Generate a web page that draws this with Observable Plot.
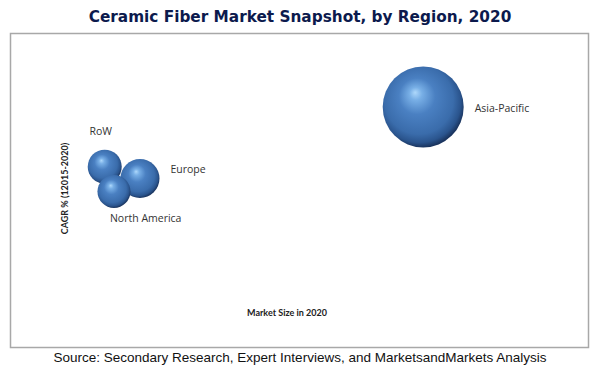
<!DOCTYPE html>
<html>
<head>
<meta charset="utf-8">
<script src="https://cdn.jsdelivr.net/npm/d3@7"></script>
<script src="https://cdn.jsdelivr.net/npm/@observablehq/plot@0.6"></script>
<style>
  html, body { margin: 0; padding: 0; background: #fff; }
  #wrap { width: 600px; height: 368px; position: relative; }
  #title { height: 32px; line-height: 32px; text-align: center; font-family: "DejaVu Sans", Verdana, sans-serif; font-weight: bold; font-size: 15.3px; color: #0c1a4d; padding-top: 1px; box-sizing: border-box; }
  #chart svg { display: block; }
  #caption { height: 20px; line-height: 19px; text-align: center; font-family: "Liberation Sans", Arial, sans-serif; font-size: 13.5px; color: #111; }
</style>
</head>
<body>
<div id="wrap">
  <div id="title">Ceramic Fiber Market Snapshot, by Region, 2020</div>
  <div id="chart"></div>
  <div id="caption">Source: Secondary Research, Expert Interviews, and MarketsandMarkets Analysis</div>
</div>
<script>
// Data (relative index values)
const regions   = ["Europe", "RoW", "North America", "Asia-Pacific"];
const marketSize = [22.4, 16.3, 17.9, 71.4];   // x: Market Size in 2020 (relative)
const cagr       = [53.8, 57.6, 49.7, 76.6];   // y: CAGR % (relative)
const bubble     = [23.2, 17.6, 16.6, 100];    // bubble size (relative)
const labelSide  = ["right", "above", "below", "right"];

const xLabel = "Market Size in 2020";
const yLabel = "CAGR % (12015-2020)";

const data = regions.map((name, i) => ({
  name, x: marketSize[i], y: cagr[i], size: bubble[i], side: labelSide[i]
}));

const rMax = 40.5;
const rScale = d3.scaleSqrt().domain([0, 100]).range([0, rMax]);

const labelFont = { fontFamily: "'Open Sans', sans-serif", fontSize: 10.5, fill: "#333" };

const labelMarks = data.map(d => {
  const r = rScale(d.size);
  if (d.side === "right") {
    return Plot.text([d], { x: "x", y: "y", text: "name", textAnchor: "start", dx: r + 11, dy: d.name === "Europe" ? -9 : 1.5, ...labelFont });
  } else if (d.side === "above") {
    return Plot.text([d], { x: "x", y: "y", text: "name", textAnchor: "middle", dx: -4, dy: -(r + 18), ...labelFont });
  } else {
    return Plot.text([d], { x: "x", y: "y", text: "name", textAnchor: "start", dx: -4, dy: r + 10.5, ...labelFont });
  }
});

const plot = Plot.plot({
  width: 600,
  height: 316,
  marginLeft: 10,
  marginRight: 12,
  marginTop: 1,
  marginBottom: 1,
  x: { domain: [0, 100], axis: null },
  y: { domain: [0, 100], axis: null },
  r: { domain: [0, 100], range: [0, rMax] },
  style: { background: "#fff", overflow: "visible" },
  marks: [
    Plot.frame({ stroke: "#a8a8a8", strokeWidth: 1.5 }),
    Plot.dot(data, { x: "x", y: "y", r: "size", fill: "url(#sphere)", stroke: "none" }),
    ...labelMarks,
    Plot.text([xLabel], { frameAnchor: "bottom", text: d => d, dx: -12.5, dy: -32, fontFamily: "Lato, 'Open Sans', sans-serif", fontSize: 9, fontWeight: "bold", fill: "#222" }),
    Plot.text([yLabel], { frameAnchor: "left", textAnchor: "middle", lineAnchor: "middle", text: d => d, dx: 55, dy: -2, rotate: -90, fontFamily: "Lato, 'Open Sans', sans-serif", fontSize: 9, fontWeight: "bold", fill: "#222" })
  ]
});

const defs = d3.select(plot).insert("defs", ":first-child");
const grad = defs.append("radialGradient")
  .attr("id", "sphere")
  .attr("cx", 0.46).attr("cy", 0.44).attr("r", 0.56)
  .attr("fx", 0.40).attr("fy", 0.32);
[[0, "#aed8fb"], [0.14, "#78afe6"], [0.4, "#4a80c2"], [0.76, "#3a6cab"], [0.91, "#2a548d"], [1, "#1a345e"]]
  .forEach(([o, c]) => grad.append("stop").attr("offset", o).attr("stop-color", c));

document.getElementById("chart").appendChild(plot);
</script>
</body>
</html>
